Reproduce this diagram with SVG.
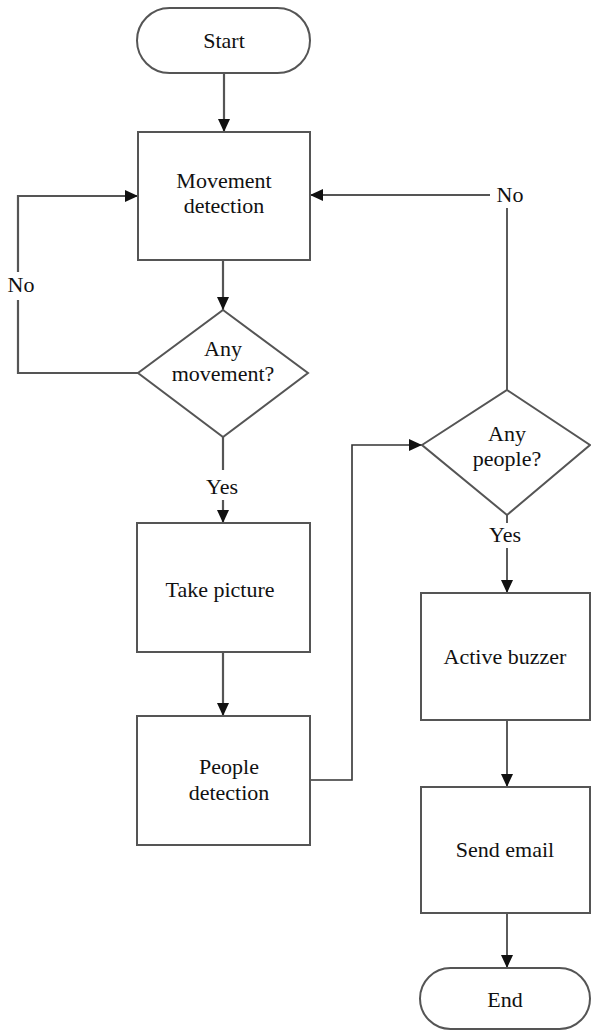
<svg xmlns="http://www.w3.org/2000/svg" width="591" height="1032" viewBox="0 0 591 1032">
<style>
.shape{fill:#fff;stroke:#555;stroke-width:2}
.conn{fill:none;stroke:#555;stroke-width:2.2}
.conn2{fill:none;stroke:#333;stroke-width:1.6}
text{font-family:"Liberation Serif","Times New Roman",serif;font-size:22px;fill:#111;text-anchor:middle}
</style>
<defs>
<marker id="ah" markerUnits="userSpaceOnUse" markerWidth="14" markerHeight="12" refX="13" refY="6" orient="auto">
<path d="M0,0 L13,6 L0,12 z" fill="#111"/>
</marker>
</defs>
<g id="connectors">
<path class="conn" d="M224,73 V132" marker-end="url(#ah)"/>
<path class="conn" d="M223,260 V310" marker-end="url(#ah)"/>
<path class="conn" d="M138,373 H18 V300"/>
<path class="conn" d="M18,272 V196 H138" marker-end="url(#ah)"/>
<path class="conn" d="M223,437 V470"/>
<path class="conn" d="M223,500 V523" marker-end="url(#ah)"/>
<path class="conn" d="M223,652 V716" marker-end="url(#ah)"/>
<path class="conn2" d="M310,780 H352 V445 H422" marker-end="url(#ah)"/>
<path class="conn2" d="M507,390 V208"/>
<path class="conn" d="M490,195 H310" marker-end="url(#ah)"/>
<path class="conn2" d="M507,515 V523"/>
<path class="conn2" d="M507,548 V593" marker-end="url(#ah)"/>
<path class="conn2" d="M507,720 V787" marker-end="url(#ah)"/>
<path class="conn2" d="M507,913 V968" marker-end="url(#ah)"/>
</g>
<g id="start">
<rect class="shape" x="137" y="8" width="173" height="65" rx="32.5"/>
<text x="224" y="48">Start</text>
</g>
<g id="movement-detection">
<rect class="shape" x="138" y="132" width="172" height="128"/>
<text x="224" y="188">Movement</text>
<text x="224" y="213">detection</text>
</g>
<g id="any-movement">
<polygon class="shape" points="223,310 308,373 223,437 138,373"/>
<text x="223" y="356">Any</text>
<text x="223" y="381">movement?</text>
</g>
<g id="label-no-left"><text x="21" y="292">No</text></g>
<g id="label-yes-left"><text x="222" y="494">Yes</text></g>
<g id="take-picture">
<rect class="shape" x="137" y="523" width="173" height="129"/>
<text x="220" y="597">Take picture</text>
</g>
<g id="people-detection">
<rect class="shape" x="137" y="716" width="173" height="129"/>
<text x="229" y="774">People</text>
<text x="229" y="800">detection</text>
</g>
<g id="any-people">
<polygon class="shape" points="507,390 590,445 507,515 422,445"/>
<text x="507" y="441">Any</text>
<text x="507" y="466">people?</text>
</g>
<g id="label-no-right"><text x="510" y="202">No</text></g>
<g id="label-yes-right"><text x="505" y="542">Yes</text></g>
<g id="active-buzzer">
<rect class="shape" x="421" y="593" width="169" height="127"/>
<text x="505" y="664">Active buzzer</text>
</g>
<g id="send-email">
<rect class="shape" x="421" y="787" width="169" height="126"/>
<text x="505" y="857">Send email</text>
</g>
<g id="end">
<rect class="shape" x="420" y="968" width="170" height="61" rx="30.5"/>
<text x="505" y="1007">End</text>
</g>
</svg>
